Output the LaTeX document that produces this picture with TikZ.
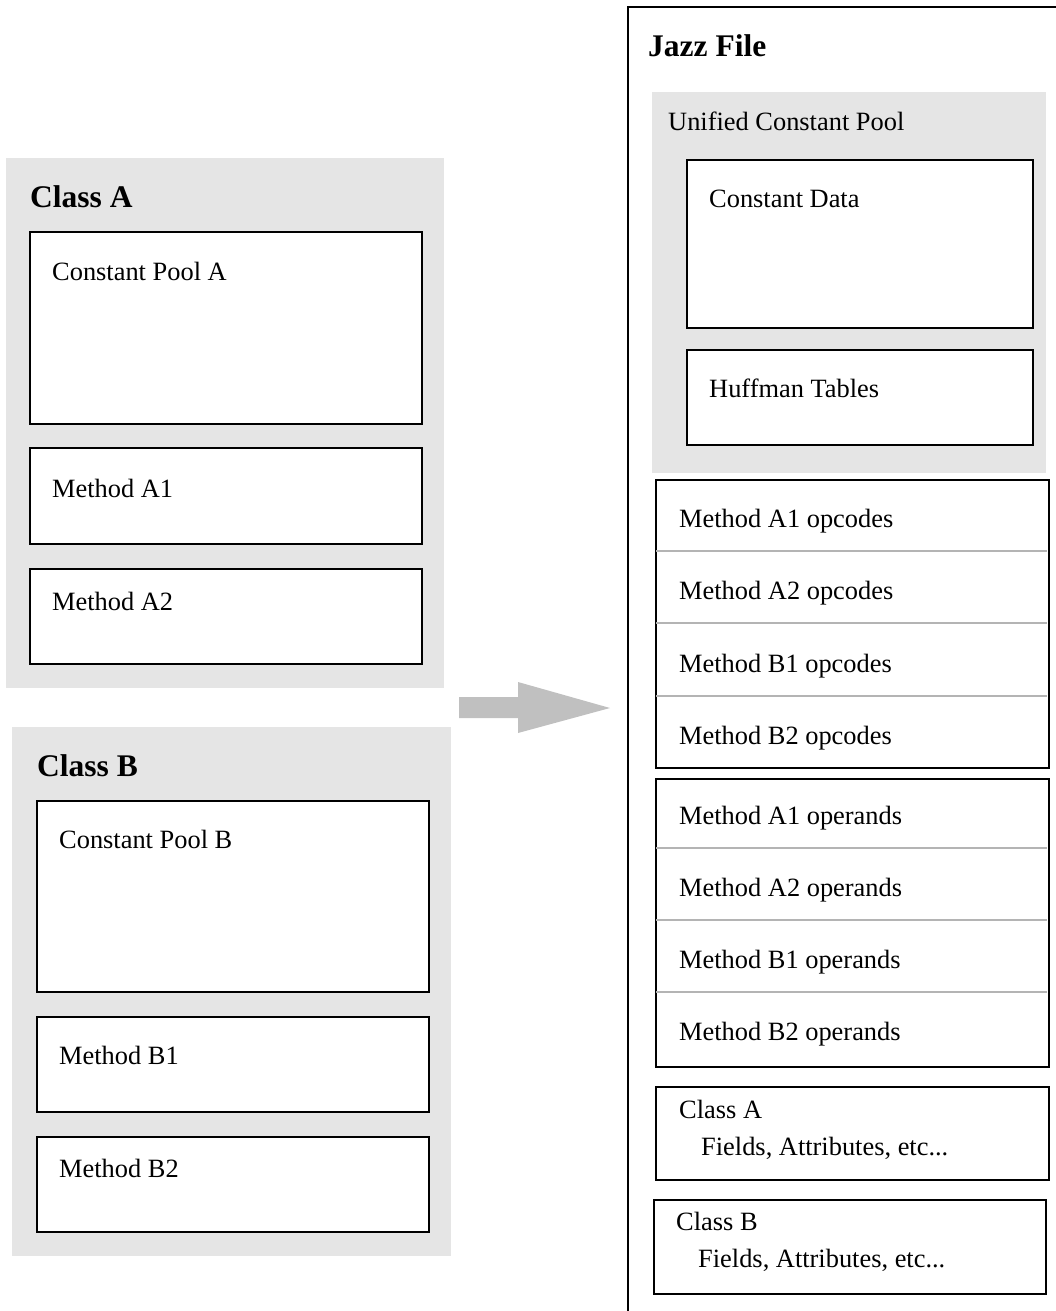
\documentclass[tikz,border=0pt]{standalone}
\usepackage{fontspec}
\setmainfont{Liberation Serif}
\begin{document}
\begin{tikzpicture}[x=1pt,y=-1pt,
  grp/.style={fill=groupgray,draw=none,anchor=north west,inner sep=0pt},
  box/.style={draw=black,line width=2pt,fill=white,anchor=north west,inner sep=0pt},
  cell/.style={draw=none,anchor=north west,inner sep=0pt},
  sep/.style={draw=sepgray,line width=2pt},
  lbl/.style={anchor=base west,inner sep=0pt,font=\fontsize{26.4}{30}\selectfont},
  head/.style={anchor=base west,inner sep=0pt,font=\fontsize{31.5}{36}\selectfont\bfseries},
  bigarrow/.style={fill=arrowgray,draw=none}]
\definecolor{groupgray}{HTML}{E5E5E5}
\definecolor{sepgray}{HTML}{B4B4B4}
\definecolor{arrowgray}{HTML}{C0C0C0}
\useasboundingbox (0,0) rectangle (1056,1311);
\clip (0,0) rectangle (1056,1311);

% ---- Class A group
\node[grp,minimum width=438,minimum height=530] (ga) at (6,158) {};
\node[head] (ta) at (30,207) {Class A};
\node[box,minimum width=392,minimum height=192] (cpa) at (29,231) {};
\node[lbl] (tcpa) at (52,280) {Constant Pool A};
\node[box,minimum width=392,minimum height=96] (ma1) at (29,447) {};
\node[lbl] (tma1) at (52,497) {Method A1};
\node[box,minimum width=392,minimum height=95] (ma2) at (29,568) {};
\node[lbl] (tma2) at (52,610) {Method A2};

% ---- Class B group
\node[grp,minimum width=439,minimum height=529] (gb) at (12,727) {};
\node[head] (tb) at (37,776) {Class B};
\node[box,minimum width=392,minimum height=191] (cpb) at (36,800) {};
\node[lbl] (tcpb) at (59,848) {Constant Pool B};
\node[box,minimum width=392,minimum height=95] (mb1) at (36,1016) {};
\node[lbl] (tmb1) at (59,1064) {Method B1};
\node[box,minimum width=392,minimum height=95] (mb2) at (36,1136) {};
\node[lbl] (tmb2) at (59,1177) {Method B2};

% ---- arrow
\fill[bigarrow] (459,697) -- (518,697) -- (518,682) -- (610,708) -- (518,733) -- (518,718) -- (459,718) -- cycle;

% ---- Jazz file
\draw[line width=2pt] (1070,7) -- (628,7) -- (628,1330);
\node[head] (tj) at (648,57) {Jazz File};
\node[grp,minimum width=394,minimum height=381] (ucp) at (652,92) {};
\node[lbl] (tucp) at (668,131) {Unified Constant Pool};
\node[box,minimum width=346,minimum height=168] (cd) at (686,159) {};
\node[lbl] (tcd) at (709,207) {Constant Data};
\node[box,minimum width=346,minimum height=95] (hf) at (686,349) {};
\node[lbl] (thf) at (709,397) {Huffman Tables};

% opcodes
\node[box,minimum width=393,minimum height=288] (ops) at (655,479) {};
\draw[sep] (656,551) -- (1047,551);
\draw[sep] (656,623) -- (1047,623);
\draw[sep] (656,696) -- (1047,696);
\node[lbl] (o1) at (679,527) {Method A1 opcodes};
\node[lbl] (o2) at (679,599) {Method A2 opcodes};
\node[lbl] (o3) at (679,672) {Method B1 opcodes};
\node[lbl] (o4) at (679,744) {Method B2 opcodes};

% operands
\node[box,minimum width=393,minimum height=288] (opr) at (655,778) {};
\draw[sep] (656,848) -- (1047,848);
\draw[sep] (656,920) -- (1047,920);
\draw[sep] (656,992) -- (1047,992);
\node[lbl] (p1) at (679,824) {Method A1 operands};
\node[lbl] (p2) at (679,896) {Method A2 operands};
\node[lbl] (p3) at (679,968) {Method B1 operands};
\node[lbl] (p4) at (679,1040) {Method B2 operands};

% class info
\node[box,minimum width=393,minimum height=93] (ca) at (655,1086) {};
\node[lbl] (ca1) at (679,1118) {Class A};
\node[lbl] (ca2) at (701,1155) {Fields, Attributes, etc...};
\node[box,minimum width=392,minimum height=94] (cb) at (653,1199) {};
\node[lbl] (cb1) at (676,1230) {Class B};
\node[lbl] (cb2) at (698,1267) {Fields, Attributes, etc...};
\end{tikzpicture}
\end{document}
